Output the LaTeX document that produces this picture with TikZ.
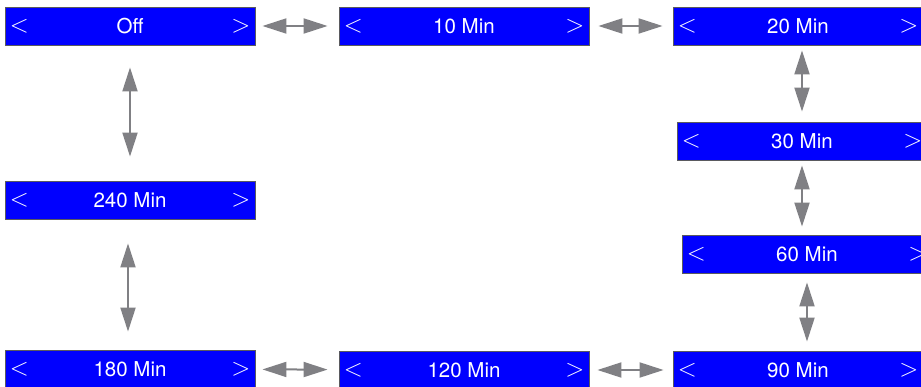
\documentclass[tikz,border=0pt]{standalone}
\usepackage{fontspec}
\setmainfont{TeX Gyre Heros}
\usetikzlibrary{arrows.meta, positioning, calc}
\definecolor{panelblue}{RGB}{0,0,255}
\definecolor{panelborder}{RGB}{90,90,95}
\definecolor{arrowgray}{RGB}{128,128,132}

% one timer panel: name, position, text
\newcommand{\timerbox}[3]{%
  \node[tbox] (#1) at (#2) {#3};
  \node[tside, anchor=west] (#1l) at ([xshift=5pt]#1.west) {$<$};
  \node[tside, anchor=east] (#1r) at ([xshift=-5pt]#1.east) {$>$};
}

\begin{document}
\begin{tikzpicture}[
    x=1pt, y=-1pt,
    tbox/.style={draw=panelborder, line width=0.9pt, fill=panelblue, text=white,
                 minimum width=250pt, minimum height=38pt, inner sep=0pt,
                 font=\fontsize{20.5}{24}\selectfont},
    tside/.style={text=white, inner sep=0pt, font=\fontsize{30}{32}\selectfont},
    biarrow/.style={{Triangle[length=24pt,width=15pt]}-{Triangle[length=24pt,width=15pt]},
                    line width=2pt, draw=arrowgray, fill=arrowgray},
]
\useasboundingbox (0,0) rectangle (921,387);
\fill[white] (0,0) rectangle (921,387);
\clip (0,0) rectangle (921,387);

% top row
\timerbox{off}{130,26}{Off}
\timerbox{m10}{464,26}{10 Min}
\timerbox{m20}{798,26}{20 Min}
% right column
\timerbox{m30}{802,141}{30 Min}
\timerbox{m60}{807,254}{60 Min}
% left column
\timerbox{m240}{130,200}{240 Min}
% bottom row
\timerbox{m180}{130,369}{180 Min}
\timerbox{m120}{464,370}{120 Min}
\timerbox{m90}{798,370}{90 Min}

\draw[biarrow, shorten <=7pt, shorten >=11pt] (off) -- (m10);
\draw[biarrow, shorten <=9pt, shorten >=10pt] (m10) -- (m20);
\draw[biarrow, shorten <=5pt, shorten >=10pt] (m20.south -| m30) -- (m30.north);
\draw[biarrow, shorten <=5pt, shorten >=8pt] (m30.south) -- (m30.south |- m60.north);
\draw[biarrow, shorten <=9pt, shorten >=9pt] (m60.south) -- (m60.south |- m90.north);
\draw[biarrow, shorten <=9pt, shorten >=8pt] (m90) -- (m120);
\draw[biarrow, shorten <=11pt, shorten >=7pt] (m120) -- (m180);
\draw[biarrow, shorten <=18pt, shorten >=24pt] ([xshift=-2pt]m180.north) -- ([xshift=-2pt]m240.south);
\draw[biarrow, shorten <=24pt, shorten >=22pt] (m240.north) -- (off.south);
\end{tikzpicture}
\end{document}
